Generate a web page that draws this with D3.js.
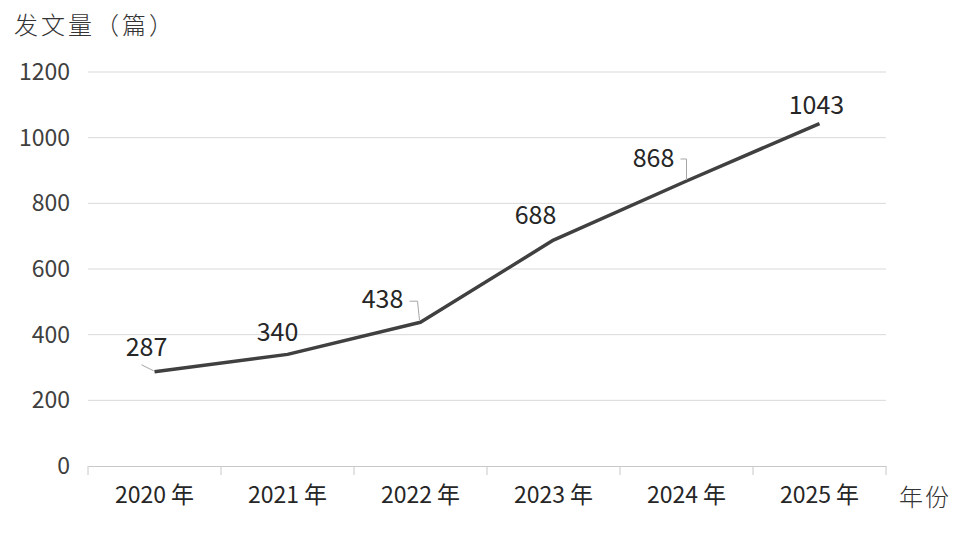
<!DOCTYPE html>
<html>
<head>
<meta charset="utf-8">
<script src="https://cdn.jsdelivr.net/npm/d3@7/dist/d3.min.js"></script>
<style>
  body { margin: 0; background: #fff; }
  svg { display: block; }
</style>
</head>
<body>
<div id="chart"></div>
<script>
// chart data
const years = ["2020 年", "2021 年", "2022 年", "2023 年", "2024 年", "2025 年"];
const counts = [287, 340, 438, 688, 868, 1043];
const yTicks = [0, 200, 400, 600, 800, 1000, 1200];

// label offsets from each point (dx, dy)
const labelDx = [-8, -10, -38, -18, -33, -3];
const labelDy = [-16, -13, -14, -16, -14, -10];

const width = 960, height = 537;
const margin = { top: 72, right: 74, bottom: 71, left: 88 };
const fontFamily = "'Noto Sans CJK SC', 'Noto Sans', sans-serif";

const svg = d3.select("#chart").append("svg")
  .attr("width", width)
  .attr("height", height);

const x = d3.scaleBand()
  .domain(years)
  .range([margin.left, width - margin.right]);

const y = d3.scaleLinear()
  .domain([0, 1200])
  .range([height - margin.bottom, margin.top]);

//gridlines
svg.append("g")
  .selectAll("line")
  .data(yTicks.slice(1))
  .enter()
  .append("line")
  .attr("x1", margin.left)
  .attr("x2", width - margin.right)
  .attr("y1", d => y(d))
  .attr("y2", d => y(d))
  .attr("stroke", "#d9d9d9")
  .attr("stroke-width", 1);

// y axis labels
const yAxis = svg.append("g")
  .attr("transform", "translate(" + (margin.left - 18) + ",0)")
  .call(d3.axisLeft(y).tickValues(yTicks).tickFormat(d3.format("d")).tickSize(0).tickPadding(0));
yAxis.select(".domain").remove();
yAxis.selectAll("text")
  .attr("font-family", fontFamily)
  .attr("font-size", 23)
  .attr("fill", "#404040");

// x axis
const xAxis = svg.append("g")
  .attr("transform", "translate(0," + y(0) + ")")
  .call(d3.axisBottom(x).tickSize(0).tickPadding(21));
xAxis.select(".domain").attr("stroke", "#c8c8c8");
xAxis.selectAll("text")
  .attr("font-family", fontFamily)
  .attr("font-size", 23)
  .attr("fill", "#262626");

// band boundary ticks
const bounds = years.map(d => x(d)).concat([x(years[years.length - 1]) + x.bandwidth()]);
xAxis.selectAll(".bound")
  .data(bounds)
  .enter()
  .append("line")
  .attr("class", "bound")
  .attr("x1", d => d)
  .attr("x2", d => d)
  .attr("y1", 0)
  .attr("y2", 9)
  .attr("stroke", "#c8c8c8");

const pts = counts.map((v, i) => ({
  v: v,
  i: i,
  px: x(years[i]) + x.bandwidth() / 2,
  py: y(v)
}));

// the line
svg.append("path")
  .datum(pts)
  .attr("fill", "none")
  .attr("stroke", "#404040")
  .attr("stroke-width", 3.5)
  .attr("stroke-linejoin", "round")
  .attr("d", d3.line().x(d => d.px).y(d => d.py));

// leader lines
const leader = "#a6a6a6";
// 287
svg.append("path")
  .attr("fill", "none").attr("stroke", leader).attr("stroke-width", 1)
  .attr("d", "M" + (pts[0].px - 13) + "," + (pts[0].py - 7) + "L" + (pts[0].px - 1) + "," + (pts[0].py - 1));
// 438
svg.append("path")
  .attr("fill", "none").attr("stroke", leader).attr("stroke-width", 1)
  .attr("d", "M" + (pts[2].px - 11) + "," + (pts[2].py - 21) + "h8" + "L" + (pts[2].px - 1) + "," + (pts[2].py - 2));
// 868
svg.append("path")
  .attr("fill", "none").attr("stroke", leader).attr("stroke-width", 1)
  .attr("d", "M" + (pts[4].px - 6) + "," + (pts[4].py - 22) + "h6" + "V" + (pts[4].py - 1));

// data labels
svg.append("g")
  .selectAll("text")
  .data(pts)
  .enter()
  .append("text")
  .attr("x", d => d.px + labelDx[d.i])
  .attr("y", d => d.py + labelDy[d.i])
  .attr("text-anchor", "middle")
  .attr("font-family", fontFamily)
  .attr("font-size", 25)
  .attr("fill", "#262626")
  .text(d => d.v);

// axis titles
svg.append("text")
  .attr("x", 14)
  .attr("y", 34)
  .attr("font-family", fontFamily)
  .attr("font-size", 24)
  .attr("font-weight", 300)
  .attr("letter-spacing", 3)
  .attr("fill", "#333")
  .text("发文量（篇）");

svg.append("text")
  .attr("x", 899)
  .attr("y", 506)
  .attr("font-family", fontFamily)
  .attr("font-size", 24)
  .attr("font-weight", 300)
  .attr("letter-spacing", 2)
  .attr("fill", "#333")
  .text("年份");
</script>
</body>
</html>
